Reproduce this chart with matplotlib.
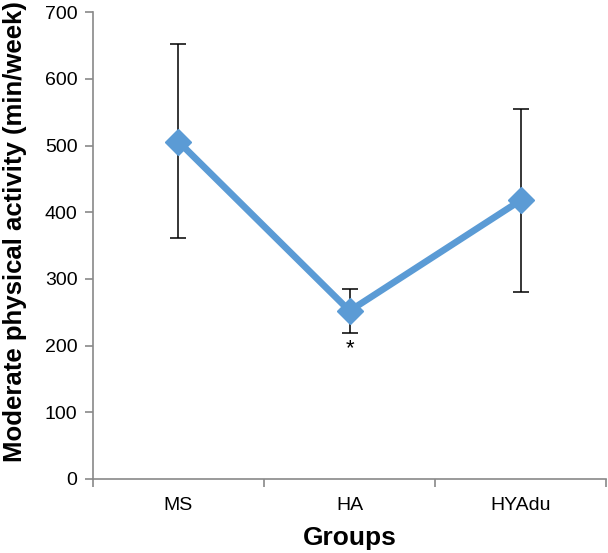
import numpy as np
import matplotlib.pyplot as plt

groups = ['MS', 'HA', 'HYAdu']
means = [506, 252, 418]
err_low = [361, 219, 280]
err_high = [652, 285, 555]

plt.rcParams['font.family'] = ['Liberation Sans', 'DejaVu Sans']

fig = plt.figure(figsize=(6.08, 5.53), dpi=100)
ax = fig.add_axes([0.1525, 0.134, 0.845, 0.844])

x = np.arange(len(groups))
yerr = [np.array(means) - np.array(err_low), np.array(err_high) - np.array(means)]
ax.errorbar(x, means, yerr=yerr, fmt='none', ecolor='black', elinewidth=1.1,
            capsize=6, capthick=1.1, zorder=2)
ax.plot(x, means, color='#5B9BD5', lw=4.8, marker='D', markersize=13,
        markeredgecolor='#5B9BD5', zorder=3)

# significance mark under HA
ax.text(1, err_low[1] - 8, '*', ha='center', va='top', fontsize=16)

ax.set_xlim(-0.5, 2.5)
ax.set_ylim(0, 700)
ax.set_yticks(range(0, 701, 100))
ax.set_xticks(x)
ax.set_xticklabels(groups)
ax.set_xticks(np.arange(-0.5, 2.6, 1), minor=True)
ax.tick_params(axis='x', which='major', length=0, labelsize=14, pad=13)
ax.tick_params(axis='x', which='minor', length=6, color='#898989', width=1.2)
ax.tick_params(axis='y', length=6, color='#898989', width=1.2, labelsize=14, pad=5)

for s in ['top', 'right']:
    ax.spines[s].set_visible(False)
for s in ['left', 'bottom']:
    ax.spines[s].set_color('#898989')
    ax.spines[s].set_linewidth(1.2)

ax.set_ylabel('Moderate physical activity (min/week)', fontsize=18.5, fontweight='bold')
ax.yaxis.set_label_coords(-0.128, 0.53)
ax.set_xlabel('Groups', fontsize=19, fontweight='bold', labelpad=9)

fig.savefig('out.png', dpi=100)
